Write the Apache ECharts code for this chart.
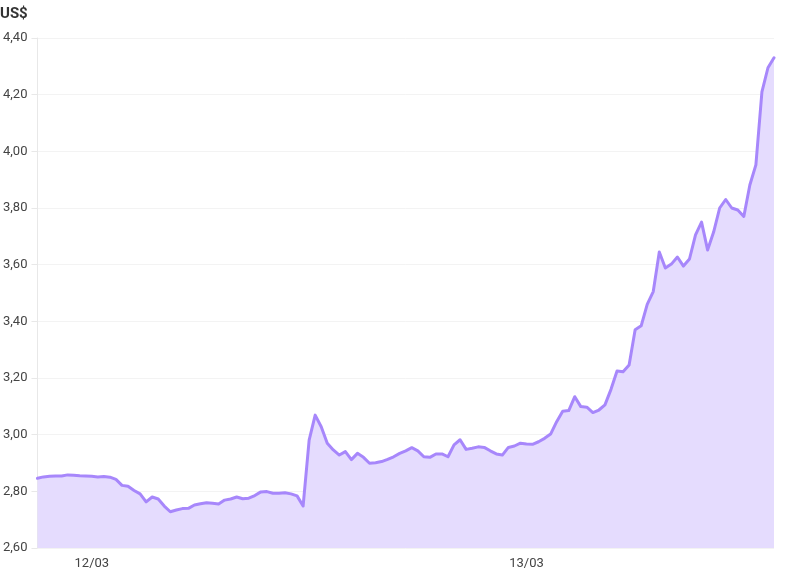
<!DOCTYPE html>
<html>
<head>
<meta charset="utf-8">
<script src="https://cdn.jsdelivr.net/npm/echarts@6/dist/echarts.min.js"></script>
<style>
  html, body { margin: 0; padding: 0; background: #fff; }
  #chart { width: 794px; height: 575px; }
</style>
</head>
<body>
<div id="chart"></div>
<script>
// preço a cada 20 min, de 11/03 21:00 até 13/03 13:40
const startDay = 11;
const startMinutes = 21 * 60;
const stepMinutes = 20;

const prices = [
  2.846, 2.851, 2.853, 2.854, 2.854, 2.858, 2.857, 2.855, 2.854, 2.853,
  2.851, 2.852, 2.850, 2.842, 2.821, 2.818, 2.803, 2.791, 2.763, 2.780,
  2.773, 2.748, 2.728, 2.734, 2.739, 2.740, 2.752, 2.756, 2.760, 2.758,
  2.755, 2.769, 2.773, 2.780, 2.774, 2.776, 2.785, 2.798, 2.799, 2.793,
  2.793, 2.795, 2.791, 2.784, 2.748, 2.981, 3.069, 3.028, 2.970, 2.946,
  2.928, 2.940, 2.912, 2.934, 2.920, 2.899, 2.901, 2.905, 2.913, 2.922,
  2.934, 2.943, 2.954, 2.943, 2.922, 2.920, 2.932, 2.932, 2.922, 2.964,
  2.982, 2.948, 2.952, 2.957, 2.955, 2.943, 2.932, 2.928, 2.955, 2.960,
  2.970, 2.967, 2.966, 2.975, 2.987, 3.002, 3.046, 3.083, 3.085, 3.134,
  3.099, 3.097, 3.078, 3.087, 3.105, 3.160, 3.225, 3.222, 3.246, 3.370,
  3.384, 3.460, 3.505, 3.645, 3.588, 3.602, 3.627, 3.595, 3.620, 3.705,
  3.750, 3.652, 3.715, 3.800, 3.830, 3.800, 3.793, 3.770, 3.881, 3.952,
  4.210, 4.295, 4.330
];

const yMin = 2.6;
const yMax = 4.4;
const yStep = 0.2;

function pad(n) { return (n < 10 ? "0" : "") + n; }

// rótulos dd/mm HH:MM
const times = prices.map(function (p, i) {
  const m = startMinutes + i * stepMinutes;
  const day = startDay + Math.floor(m / 1440);
  const mm = m % 1440;
  return pad(day) + "/03 " + pad(Math.floor(mm / 60)) + ":" + pad(mm % 60);
});

const chart = echarts.init(document.getElementById("chart"));

const option = {
  animation: false,
  textStyle: { fontFamily: "Roboto" },
  title: {
    text: "US$",
    left: 0,
    top: 7,
    padding: 0,
    textStyle: { fontSize: 15, fontWeight: "bold", color: "#333", fontFamily: "Roboto" }
  },
  grid: {
    left: 36,
    right: 20,
    top: 38,
    bottom: 27
  },
  xAxis: {
    type: "category",
    data: times,
    boundaryGap: false,
    axisLine: { show: false },
    axisTick: { show: false },
    splitLine: { show: false },
    axisLabel: {
      color: "#444",
      fontSize: 13,
      margin: 9,
      interval: function (idx, val) { return val.slice(6) === "00:00"; },
      formatter: function (val) { return val.slice(0, 5); }
    }
  },
  yAxis: {
    type: "value",
    min: yMin,
    max: yMax,
    interval: yStep,
    axisLine: { show: true, lineStyle: { color: "#e8e8e8", width: 1 } },
    axisTick: { show: true, length: 6, lineStyle: { color: "#e8e8e8" } },
    splitLine: { show: true, lineStyle: { color: "#f3f3f3", width: 1 } },
    axisLabel: {
      color: "#444",
      fontSize: 13,
      margin: 10,
      formatter: function (v) { return v.toFixed(2).replace(".", ","); }
    }
  },
  series: [
    {
      type: "line",
      data: prices,
      smooth: false,
      showSymbol: false,
      lineStyle: { color: "#a787fb", width: 3, join: "round", cap: "round" },
      itemStyle: { color: "#a787fb" },
      areaStyle: { color: "#e5dcfe", opacity: 1 }
    }
  ]
};

chart.setOption(option);
</script>
</body>
</html>
